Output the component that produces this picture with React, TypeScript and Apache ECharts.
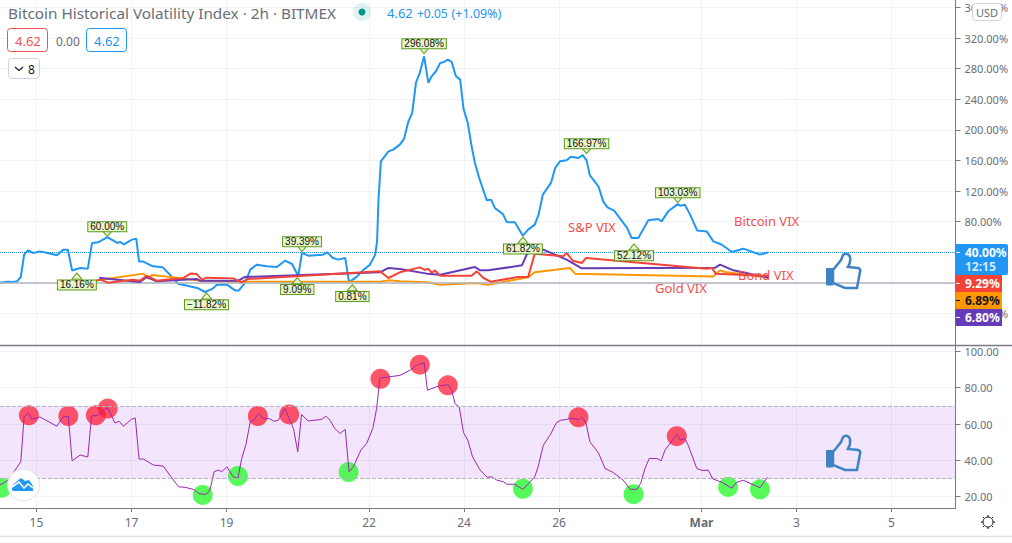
import { useEffect, useRef } from 'react';
import * as echarts from 'echarts';

// day of Feb 2021 on the x axis, so 29 = 1 Mar
const btcDays = [14.23, 14.38, 14.51, 14.59, 14.67, 14.74, 14.82, 14.93, 15.07, 15.24, 15.43, 15.56, 15.66, 15.75, 15.92, 16.08, 16.17, 16.3, 16.49, 16.7, 16.76, 16.84, 17.01, 17.1, 17.16, 17.24, 17.45, 17.66, 17.81, 17.98, 18.13, 18.38, 18.55, 18.7, 18.8, 19.01, 19.18, 19.26, 19.39, 19.5, 19.64, 19.85, 20.06, 20.23, 20.38, 20.51, 20.59, 20.72, 21.03, 21.12, 21.24, 21.35, 21.5, 21.58, 21.75, 21.87, 22.02, 22.13, 22.17, 22.2, 22.25, 22.41, 22.51, 22.65, 22.74, 22.83, 22.91, 22.99, 23.07, 23.16, 23.25, 23.32, 23.41, 23.5, 23.58, 23.66, 23.74, 23.83, 23.92, 23.99, 24.08, 24.16, 24.23, 24.32, 24.48, 24.57, 24.65, 24.82, 24.9, 25.07, 25.24, 25.35, 25.49, 25.57, 25.66, 25.83, 25.92, 26.02, 26.16, 26.25, 26.41, 26.5, 26.58, 26.65, 26.83, 26.93, 27.02, 27.16, 27.43, 27.53, 27.67, 27.88, 28.09, 28.16, 28.3, 28.5, 28.55, 28.65, 28.76, 28.91, 29.11, 29.25, 29.43, 29.64, 29.88, 30.23, 30.41];
const btcVix = [0.4, 1.7, 1.3, 2.1, 7.8, 37, 42.6, 39.2, 41.3, 39.2, 36.1, 43.5, 43.5, 16.2, 19.6, 18.7, 52.3, 53.1, 60, 52.3, 53.6, 50.4, 56.6, 57.9, 28.2, 28.2, 21.7, 20.4, 10.8, -0.9, -3.1, -6.5, -11.8, -7.8, -2.2, -2.2, -9.7, -9.7, 0, 17.4, 23.9, 21.7, 20.9, 29.1, 24.8, 9.1, 39.4, 35.7, 37, 40, 32.7, 30.5, 32.7, 0.8, 8.6, 16.5, 23.9, 37, 54.4, 108.9, 158.9, 172, 174.2, 180.8, 188.6, 211.2, 222.2, 262.2, 274.5, 296.1, 261.4, 270, 276.6, 287.5, 288.8, 291.9, 288.8, 270, 265.7, 227.4, 209.1, 178.5, 156.8, 137.2, 108, 108.9, 98, 89.9, 79.5, 79.2, 61.8, 69.7, 76.2, 89.3, 115.4, 130.7, 150.3, 158.9, 160.2, 165, 163.4, 167, 160.2, 140.6, 126.3, 106.6, 98.8, 94.5, 72.3, 58.8, 58.8, 81.8, 83.6, 80.5, 93.6, 103, 101, 102.3, 89.3, 68.4, 67.4, 54.4, 50, 40.5, 44.8, 37, 40];

const spDays = [16.32, 16.55, 17.18, 17.32, 17.53, 18.37, 18.44, 19.25, 19.39, 22.23, 22.41, 22.65, 23.22, 23.5, 24.23, 24.34, 24.51, 25.22, 25.32, 25.46, 25.67, 26.16, 26.48, 29.29, 29.39, 29.67, 30.41];
const spVix = [6.9, 5.2, 1.3, 7.8, 2.1, 5.2, 3, 3, 7.8, 13.9, 19.6, 18.3, 12.2, 10.8, 20.9, 16.5, 16.5, 23, 37, 45.7, 43.5, 30.5, 19.1, 20, 23.9, 16.5, 6.8];

const bondDays = [16.09, 16.34, 16.51, 17.03, 17.18, 17.32, 17.53, 17.87, 18.08, 18.25, 18.37, 18.48, 18.58, 19.14, 19.32, 19.45, 22.23, 22.41, 22.65, 23.07, 23.16, 23.25, 23.32, 23.39, 23.5, 24.16, 24.27, 24.41, 24.56, 25.14, 25.35, 25.49, 26.09, 26.16, 26.29, 26.48, 26.57, 29.11, 29.22, 29.3, 30.41];
const bondVix = [0.8, 4.3, 0.4, 4.3, 3, 9.5, 3, 5.2, 6, 12.5, 11.8, 4.3, 6.9, 6, 0.8, 5.2, 15.2, 6.5, 13.9, 20.4, 17.4, 18.3, 13.1, 16.5, 9.5, 9.5, 15.2, 6.5, 1.7, 7.8, 7.8, 38.3, 34.8, 39.2, 29.1, 26.1, 32.7, 18.7, 19.6, 12.2, 9.3];

const goldDays = [16.34, 16.62, 17.25, 17.35, 17.43, 18.08, 18.44, 19.29, 22.23, 22.41, 22.65, 23.22, 23.5, 24.27, 24.51, 25.35, 25.49, 26.23, 26.34, 29.25, 29.39, 29.5, 30.41];
const goldVix = [4.3, 6.5, 12.2, 5.6, 10.5, 6, 3, 1.7, 1.7, 3.4, 2.1, 0.8, -2.2, 0, -2.2, 7.3, 13.9, 19.6, 12.2, 8.6, 16.5, 14.4, 6.9];

const rsiDays = [14.23, 14.41, 14.67, 14.74, 14.83, 14.9, 15.07, 15.43, 15.56, 15.67, 15.75, 15.92, 16.08, 16.16, 16.29, 16.46, 16.51, 16.65, 16.74, 16.83, 17, 17.08, 17.16, 17.25, 17.46, 17.67, 17.83, 17.99, 18.13, 18.3, 18.44, 18.58, 18.65, 18.74, 18.83, 18.9, 19.01, 19.14, 19.24, 19.32, 19.41, 19.5, 19.58, 19.67, 19.78, 19.9, 20, 20.09, 20.23, 20.41, 20.5, 20.58, 20.72, 21, 21.09, 21.18, 21.28, 21.39, 21.5, 21.58, 21.67, 21.83, 21.95, 22.08, 22.16, 22.23, 22.65, 22.86, 23, 23.16, 23.23, 23.46, 23.67, 23.74, 23.81, 23.9, 23.99, 24.08, 24.18, 24.34, 24.49, 24.58, 24.69, 24.83, 24.9, 25.07, 25.24, 25.49, 25.56, 25.67, 25.81, 25.95, 26.04, 26.16, 26.23, 26.41, 26.49, 26.57, 26.65, 26.83, 26.97, 27.14, 27.35, 27.5, 27.64, 27.72, 27.81, 27.9, 28.06, 28.15, 28.23, 28.48, 28.56, 28.65, 28.72, 28.9, 29.01, 29.14, 29.24, 29.43, 29.64, 29.74, 29.88, 30.23, 30.39];
const rsiValues = [26.4, 29.1, 39.2, 63.9, 66.1, 62.6, 63.9, 58.8, 63.9, 64.3, 39.7, 42.9, 41.8, 64.4, 64.8, 68.5, 68.5, 60.6, 61.5, 58.8, 62.6, 63.3, 40.7, 40.7, 37.4, 36.8, 30.9, 25.4, 25.1, 24, 21.4, 21.3, 23.6, 33.7, 34.6, 33.7, 36.4, 30.9, 30, 41, 48.7, 61.2, 62.1, 65.8, 63, 63, 61.5, 62.1, 68.5, 57.5, 44.7, 65.2, 61.7, 62.5, 64.3, 62.1, 57.5, 54.8, 57, 33.7, 36.4, 45.6, 49.3, 57.5, 68.5, 85.3, 86.8, 89.6, 92.3, 93.8, 78.6, 80.9, 81.7, 78.6, 71.3, 69.4, 55.3, 51.1, 41.9, 34.6, 30.6, 30.9, 29.1, 28.2, 26.8, 26.8, 24, 30.9, 36.4, 48.3, 53.8, 60.8, 62.1, 62.5, 63.3, 62.5, 63.7, 60.3, 50.2, 44.1, 35.5, 33.3, 29.1, 24, 24, 27.3, 35.5, 41, 41, 39.7, 45.6, 54.2, 51.1, 52, 48.3, 35.5, 34.4, 34.6, 29.7, 27.9, 24.6, 27.9, 29, 24.9, 30.6];

const overboughtDays = [14.84, 15.67, 16.25, 16.5, 19.66, 20.32, 22.24, 23.07, 23.66, 26.41, 28.48];
const overboughtValues = [64.8, 64.4, 64.8, 68.5, 64.4, 65.3, 84.9, 92.7, 81.3, 63.7, 53.3];
const oversoldDays = [14.27, 18.5, 19.24, 21.57, 25.24, 27.57, 29.56, 30.23];
const oversoldValues = [24.9, 20.9, 31.3, 33.5, 24.3, 21.3, 25.3, 24];

// callouts on the blue line: where the tip points, text, and whether the box hangs above
const tagDays = [16.49, 15.85, 20.59, 20.49, 21.65, 18.58, 23.16, 26.58, 28.5, 25.24, 27.58];
const tagValues = [60.5, 13, 41, 7, -2.2, -13, 299.7, 169, 105, 60, 51];
const tagTexts = ['60.00%', '16.16%', '39.39%', '9.09%', '0.81%', '−11.82%', '296.08%', '166.97%', '103.03%', '61.82%', '52.12%'];
const tagAbove = [true, false, true, false, false, false, true, true, true, false, false];

const timeTicks = [15, 17, 19, 22, 24, 26, 29, 31, 33];
const timeLabels = ['15', '17', '19', '22', '24', '26', 'Mar', '3', '5'];
const priceTicks = [-40, 0, 40, 80, 120, 160, 200, 240, 280, 320, 360];
const rsiTicks = [20, 40, 60, 80, 100];

const zip = (xs: number[], ys: number[]) => xs.map((x, i) => [x, ys[i]]);

const FONT = '"Noto Sans", sans-serif';
const GRID = '#f0f3fa';
const AXIS = '#787b86';
const LABEL = '#6a6d78';

echarts.graphic.registerShape(
  'thumb',
  echarts.graphic.extendPath('M18 25 L26 15 L28 10 Q33 7 35 12 Q36 17 33 22 L43 23 Q46 24 45 27 L42 43 L30 43 L18 38 Z', {}),
);

function txt(text: string, x: number, y: number, fill: string, fontSize = 12, extra: object = {}) {
  return { type: 'text', x, y, z: 20, style: { text, fill, fontSize, fontFamily: FONT, textVerticalAlign: 'middle', ...extra } };
}

function box(x: number, y: number, width: number, height: number, stroke: string) {
  return { type: 'rect', z: 20, shape: { x, y, width, height, r: 3 }, style: { fill: '#fff', stroke, lineWidth: 1 } };
}

function priceTag(y: number, height: number, width: number, fill: string, color: string, text: string) {
  return [
    { type: 'rect', z: 20, shape: { x: 955.5, y, width, height }, style: { fill } },
    txt(text, 965, y + 8.5, color, 12, { fontWeight: 'bold' }),
    { type: 'line', z: 21, shape: { x1: 956, y1: y + 8.5, x2: 960, y2: y + 8.5 }, style: { stroke: color, lineWidth: 1 } },
  ];
}

function thumb(y: number) {
  return [
    { type: 'thumb', x: 815, y, z: 15, style: { fill: 'none', stroke: '#3f83c4', lineWidth: 2.5 } },
    { type: 'rect', z: 15, shape: { x: 826, y: y + 23, width: 7.5, height: 17.5, r: 1 }, style: { fill: '#3f83c4' } },
  ];
}

const gearSpokes = [[0, -7, 0, -5], [0, 5, 0, 7], [-7, 0, -5, 0], [5, 0, 7, 0], [-5, -5, -4, -4], [4, -4, 5, -5], [-5, 5, -4, 4], [4, 4, 5, 5]];

const option = {
  animation: false,
  backgroundColor: '#fff',
  grid: [
    { left: 0, top: 0, width: 955.5, height: 345.5 },
    { left: 0, top: 346, width: 955.5, height: 162 },
  ],
  xAxis: [
    {
      type: 'value', gridIndex: 0, min: 14.232, max: 34.347,
      axisLine: { show: false },
      axisTick: { show: false, customValues: timeTicks },
      axisLabel: { show: false, customValues: timeTicks },
      splitLine: { show: true, lineStyle: { color: GRID, width: 1 } },
    },
    {
      type: 'value', gridIndex: 1, min: 14.232, max: 34.347,
      axisLine: { show: true, onZero: false, lineStyle: { color: AXIS, width: 1 } },
      axisTick: { show: true, length: 4, customValues: timeTicks, lineStyle: { color: AXIS } },
      axisLabel: {
        show: true, customValues: timeTicks, margin: 8, color: LABEL, fontSize: 12, fontFamily: FONT,
        hideOverlap: false, showMinLabel: true, showMaxLabel: true,
        formatter: (v: number) => {
          const t = timeLabels[timeTicks.indexOf(v)];
          return t === 'Mar' ? '{b|Mar}' : t;
        },
        rich: { b: { fontWeight: 'bold', color: LABEL, fontSize: 12, fontFamily: FONT } },
      },
      splitLine: { show: true, lineStyle: { color: GRID, width: 1 } },
    },
  ],
  yAxis: [
    {
      type: 'value', gridIndex: 0, position: 'right', min: -81.7, max: 369.7,
      axisLine: { show: true, onZero: false, lineStyle: { color: AXIS, width: 1 } },
      axisTick: { show: true, length: 5, customValues: priceTicks, lineStyle: { color: AXIS } },
      axisLabel: {
        customValues: priceTicks, margin: 9, color: LABEL, fontSize: 11, fontFamily: FONT,
        formatter: (v: number) => `${v < 0 ? '−' : ''}${Math.abs(v).toFixed(2)}%`,
      },
      splitLine: { show: true, lineStyle: { color: GRID, width: 1 } },
    },
    {
      type: 'value', gridIndex: 1, position: 'right', min: 13.7, max: 103,
      axisLine: { show: true, onZero: false, lineStyle: { color: AXIS, width: 1 } },
      axisTick: { show: true, length: 5, customValues: rsiTicks, lineStyle: { color: AXIS } },
      axisLabel: {
        customValues: rsiTicks, margin: 9, color: LABEL, fontSize: 11, fontFamily: FONT,
        formatter: (v: number) => v.toFixed(2),
      },
      splitLine: { show: true, lineStyle: { color: GRID, width: 1 } },
    },
  ],
  series: [
    {
      name: 'Bitcoin VIX', type: 'line', data: zip(btcDays, btcVix), showSymbol: false, symbol: 'none',
      lineStyle: { color: '#2196f3', width: 2 }, z: 3,
      markLine: {
        silent: true, symbol: 'none', label: { show: false }, animation: false,
        data: [
          { yAxis: 40, lineStyle: { color: '#2196f3', type: 'dotted', width: 1 } },
          { yAxis: 0, lineStyle: { color: '#b2b5be', type: 'solid', width: 1.5 } },
        ],
      },
    },
    { name: 'Gold VIX', type: 'line', data: zip(goldDays, goldVix), showSymbol: false, symbol: 'none', lineStyle: { color: '#ff9800', width: 2 }, z: 4 },
    { name: 'S&P VIX', type: 'line', data: zip(spDays, spVix), showSymbol: false, symbol: 'none', lineStyle: { color: '#673ab7', width: 2 }, z: 5 },
    { name: 'Bond VIX', type: 'line', data: zip(bondDays, bondVix), showSymbol: false, symbol: 'none', lineStyle: { color: '#f44336', width: 2 }, z: 6 },
    {
      name: 'Tags', type: 'scatter', z: 8,
      data: tagDays.map((d, i) => ({
        value: [d, tagValues[i]],
        symbolRotate: tagAbove[i] ? 180 : 0,
        symbolOffset: [0, tagAbove[i] ? -3 : 3],
        label: { position: tagAbove[i] ? 'top' : 'bottom', formatter: tagTexts[i], distance: tagAbove[i] ? -1 : 1 },
      })),
      symbol: 'triangle', symbolSize: [10, 6],
      itemStyle: { color: '#e8f5c8', borderColor: '#6a9f2a', borderWidth: 1, opacity: 1 },
      label: {
        show: true, color: '#111', fontSize: 10, fontFamily: '"Liberation Sans", sans-serif',
        backgroundColor: '#e8f5c8', borderColor: '#5d9a1e', borderWidth: 1, padding: [0, 2], lineHeight: 9,
      },
    },
    {
      name: 'Overbought', type: 'scatter', xAxisIndex: 1, yAxisIndex: 1, z: 2, clip: true,
      data: zip(overboughtDays, overboughtValues), symbolSize: 20,
      itemStyle: { color: 'rgba(255,30,55,0.75)', opacity: 1 },
    },
    {
      name: 'Oversold', type: 'scatter', xAxisIndex: 1, yAxisIndex: 1, z: 2, clip: true,
      data: zip(oversoldDays, oversoldValues), symbolSize: 20,
      itemStyle: { color: 'rgba(40,248,45,0.78)', opacity: 1 },
    },
    {
      name: 'RSI', type: 'line', xAxisIndex: 1, yAxisIndex: 1, z: 3,
      data: zip(rsiDays, rsiValues), showSymbol: false, symbol: 'none',
      lineStyle: { color: '#9c27b0', width: 1 },
      markArea: {
        silent: true, itemStyle: { color: 'rgba(156,39,220,0.12)' },
        data: [[{ yAxis: 30 }, { yAxis: 70 }]],
      },
      markLine: {
        silent: true, symbol: 'none', label: { show: false },
        lineStyle: { color: '#b2b5be', type: 'dashed', width: 1 },
        data: [{ yAxis: 30 }, { yAxis: 70 }],
      },
    },
  ],
  graphic: [
    { type: 'line', z: 18, shape: { x1: 0, y1: 345.5, x2: 1012, y2: 345.5 }, style: { stroke: AXIS, lineWidth: 1.5 } },
    { type: 'line', z: 18, shape: { x1: 0, y1: 536.5, x2: 1012, y2: 536.5 }, style: { stroke: '#e0e3eb', lineWidth: 1.5 } },
    txt('Bitcoin Historical Volatility Index · 2h · BITMEX', 8, 12.5, LABEL, 15.3),
    { type: 'circle', z: 20, shape: { cx: 362, cy: 12, r: 9 }, style: { fill: 'rgba(0,150,136,0.12)' } },
    { type: 'circle', z: 21, shape: { cx: 362, cy: 12, r: 3.5 }, style: { fill: '#009688' } },
    txt('4.62', 387, 13, '#2196f3', 13),
    txt('+0.05', 417, 13, '#2196f3', 12),
    txt('(+1.09%)', 451.5, 13, '#2196f3', 12.5),
    box(7.5, 28.5, 40, 23, '#ef5350'),
    txt('4.62', 15, 41, '#ef5350', 13),
    txt('0.00', 56, 41, LABEL, 12),
    box(86.5, 28.5, 40, 23, '#2196f3'),
    txt('4.62', 94, 41, '#2196f3', 13),
    box(8.5, 58.5, 31, 20, '#d1d4dc'),
    { type: 'polyline', z: 21, shape: { points: [[15, 67], [19, 70.5], [23, 67]] }, style: { fill: 'none', stroke: '#131722', lineWidth: 1.2 } },
    txt('8', 28, 69, '#131722', 12),
    box(972.5, 3.5, 29, 17, '#d1d4dc'),
    txt('USD', 987, 12.5, LABEL, 11, { textAlign: 'center' }),
    txt('S&P VIX', 568, 227, '#f55050', 13),
    txt('Bitcoin VIX', 734, 220.5, '#f55050', 13),
    txt('Bond VIX', 738, 275, '#f55050', 13),
    txt('Gold VIX', 655, 287.5, '#f55050', 13),
    ...thumb(245),
    ...thumb(427),
    { type: 'rect', z: 20, shape: { x: 955.5, y: 244, width: 52.5, height: 31, r: [0, 2, 2, 0] }, style: { fill: '#2196f3' } },
    { type: 'line', z: 21, shape: { x1: 956, y1: 252.5, x2: 960, y2: 252.5 }, style: { stroke: '#fff', lineWidth: 1 } },
    txt('40.00%', 965, 252.5, '#fff', 12, { fontWeight: 'bold' }),
    txt('12:15', 965, 266.5, '#d3eafc', 12, { fontWeight: 'bold' }),
    ...priceTag(275, 17, 46.5, '#f44336', '#fff', '9.29%'),
    ...priceTag(292, 17, 46.5, '#ff9800', '#131722', '6.89%'),
    ...priceTag(309, 17, 46.5, '#673ab7', '#fff', '6.80%'),
    { type: 'circle', z: 20, shape: { cx: 23.5, cy: 485, r: 16 }, style: { fill: '#fff', stroke: '#e0e3eb', lineWidth: 1 } },
    { type: 'polygon', z: 21, shape: { points: [[12, 490], [12, 486], [16, 482], [21, 478], [25, 481], [29, 480], [33, 486], [33, 491], [13, 491]] }, style: { fill: '#2196f3' } },
    { type: 'polyline', z: 22, shape: { points: [[12, 487], [19, 482], [24, 488], [28, 484], [33, 488]] }, style: { fill: 'none', stroke: '#fff', lineWidth: 1.6 } },
    { type: 'circle', z: 20, shape: { cx: 988, cy: 522, r: 5 }, style: { fill: 'none', stroke: '#131722', lineWidth: 1 } },
    ...gearSpokes.map(([a, b, c, d]) => ({
      type: 'line', z: 20, shape: { x1: 988 + a, y1: 522 + b, x2: 988 + c, y2: 522 + d }, style: { stroke: '#131722', lineWidth: 1 },
    })),
  ],
};

export default function App() {
  const ref = useRef<HTMLDivElement | null>(null);
  useEffect(() => {
    if (!ref.current) return;
    const chart = echarts.init(ref.current, undefined, { renderer: 'svg' });
    chart.setOption(option as echarts.EChartsOption);
    return () => chart.dispose();
  }, []);
  return <div ref={ref} style={{ position: 'absolute', left: 0, top: 0, width: 1012, height: 543 }} />;
}
